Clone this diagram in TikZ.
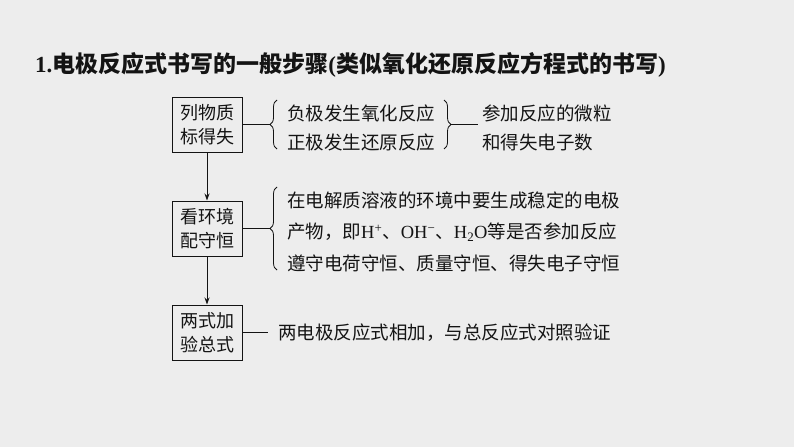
\documentclass[tikz,border=0pt]{standalone}
\usepackage{fontspec}
\setmainfont{Liberation Serif}
\newfontfamily\cjk{Noto Sans CJK SC}
\usetikzlibrary{arrows.meta,decorations.pathreplacing}
\definecolor{bg}{RGB}{237,237,237}
\definecolor{ink}{RGB}{20,20,20}
\begin{document}
\begin{tikzpicture}[x=1pt,y=-1pt,
 every node/.style={text=ink},
 box/.style={draw=ink,line width=1pt,minimum width=70pt,minimum height=55pt,inner sep=0pt,align=center,font=\cjk\fontsize{18}{24}\selectfont},
 txt/.style={anchor=west,inner sep=0pt,font=\cjk\fontsize{18.5}{29}\selectfont},
 brc/.style={draw=ink,decorate,decoration={brace,amplitude=7pt},line width=0.8pt},
 con/.style={draw=ink,line width=0.9pt},
 arr/.style={con,-{Stealth[length=7pt,width=5pt]}}]
\fill[bg] (0,0) rectangle (794,447);
\useasboundingbox (0,0) rectangle (794,447);
% title
\node[anchor=west,inner sep=0pt,font=\cjk\bfseries\fontsize{23}{27}\selectfont] (title) at (35,65)
 {{\rmfamily\bfseries 1.}电极反应式书写的一般步骤{\rmfamily\bfseries (}类似氧化还原反应方程式的书写{\rmfamily\bfseries )}};
% step boxes
\node[box] (s1) at (207,124.5) {列物质\\标得失};
\node[box] (s2) at (207,228.5) {看环境\\配守恒};
\node[box] (s3) at (207,332.5) {两式加\\验总式};
\draw[arr] (s1) -- (s2);
\draw[arr] (s2) -- (s3);
% group 1
\draw[brc] (277,149) -- (277,100);
\coordinate (b1) at (270,124.5);
\draw[con] (s1) -- (b1);
\node[txt] (t1) at (287,113) {负极发生氧化反应};
\node[txt] (t2) at (287,142) {正极发生还原反应};
\draw[brc] (444,100) -- (444,149);
\coordinate (b2) at (451,124.5);
\node[txt,align=left] (t3) at (482,127.5) {参加反应的微粒\\和得失电子数};
\draw[con,shorten >=4pt] (b2) -- (b2 -| t3.west);
% group 2
\draw[brc] (277,270) -- (277,187);
\coordinate (b3) at (270,228.5);
\draw[con] (s2) -- (b3);
\node[txt] (t4) at (287,200) {在电解质溶液的环境中要生成稳定的电极};
\node[txt] (t5) at (287,232) {产物，即{\rmfamily H\textsuperscript{+}}、{\rmfamily OH\textsuperscript{−}}、{\rmfamily H\textsubscript{2}O}等是否参加反应};
\node[txt] (t6) at (287,263) {遵守电荷守恒、质量守恒、得失电子守恒};
% group 3
\node[txt] (t7) at (278,333) {两电极反应式相加，与总反应式对照验证};
\draw[con,shorten >=10pt] (s3) -- (s3 -| t7.west);
\end{tikzpicture}
\end{document}
